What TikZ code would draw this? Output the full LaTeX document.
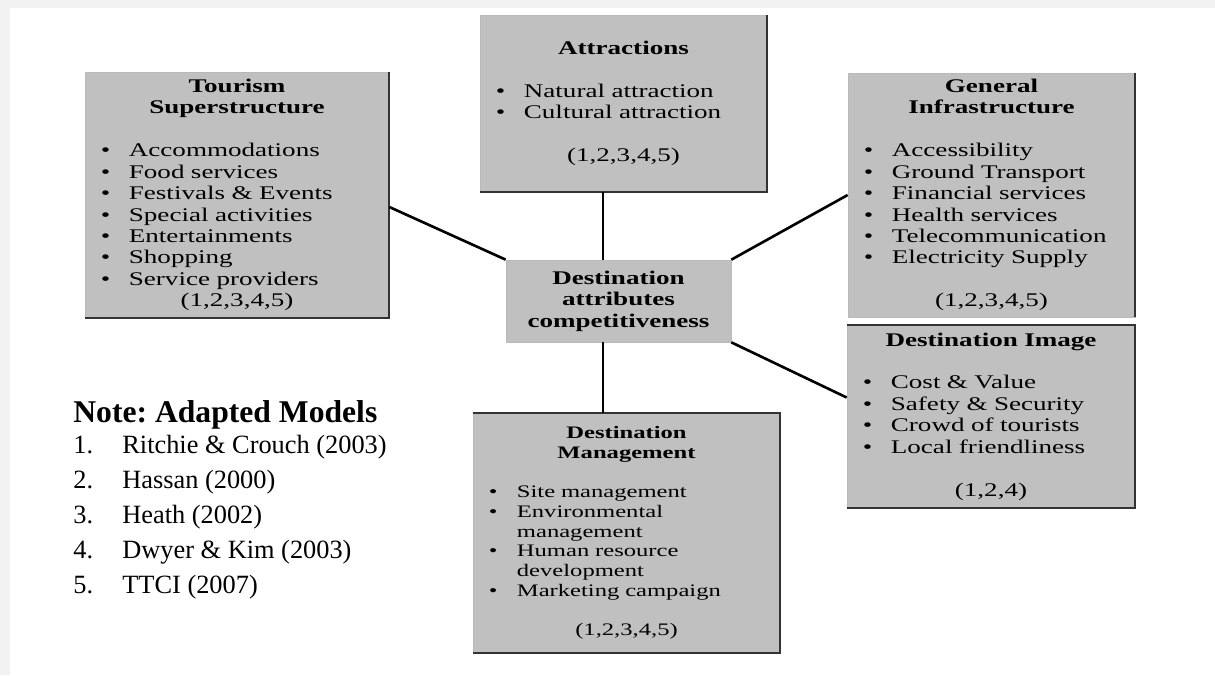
\documentclass[tikz,border=0pt]{standalone}
\usepackage{fontspec}
\setmainfont{Liberation Serif}
\newfontfamily\boxfont{Liberation Serif}[FakeStretch=1.4]
\definecolor{boxgray}{RGB}{192,192,192}
\definecolor{pagegray}{RGB}{242,242,242}
\newcommand{\itm}[1]{\makebox[\linewidth][l]{\hspace*{9pt}\makebox[16pt][l]{\textbullet}#1}}
\newcommand{\cnt}[1]{\makebox[\linewidth][l]{\hspace*{25pt}#1}}
\frenchspacing
\begin{document}
\begin{tikzpicture}[
    box/.style={draw=gray!55, line width=0.4pt, fill=boxgray, inner sep=0pt,
        align=center, font=\boxfont\fontsize{11pt}{12.2pt}\selectfont},
    smallbox/.style={box, font=\boxfont\fontsize{10pt}{11.2pt}\selectfont},
    rim/.style={draw=black!80, line width=1.1pt},
    link/.style={line width=1.5pt},
    ttl/.style={anchor=base west, inner sep=0pt, font=\fontsize{18pt}{20pt}\selectfont\bfseries},
    ref/.style={anchor=base west, inner sep=0pt, font=\fontsize{15pt}{17pt}\selectfont}
]
% page
\fill[pagegray] (0,0) rectangle (24.3,-13.5);
\fill[white] (0.2,-0.16) rectangle (24.3,-13.5);

\node[box, text width=6.08cm, minimum height=4.92cm] (ts) at (4.74,-3.90)
    {\textbf{Tourism}\\ \textbf{Superstructure}\\[12.2pt]
     \itm{Accommodations}\\ \itm{Food services}\\ \itm{Festivals \& Events}\\
     \itm{Special activities}\\ \itm{Entertainments}\\ \itm{Shopping}\\
     \itm{Service providers}\\ (1,2,3,4,5)};

\node[box, text width=5.74cm, minimum height=3.54cm] (at) at (12.47,-2.07)
    {\textbf{Attractions}\\[12.2pt]
     \itm{Natural attraction}\\ \itm{Cultural attraction}\\[12.2pt]
     (1,2,3,4,5)};

\node[box, text width=5.74cm, minimum height=4.88cm] (gi) at (19.83,-3.90)
    {\textbf{General}\\ \textbf{Infrastructure}\\[12.2pt]
     \itm{Accessibility}\\ \itm{Ground Transport}\\ \itm{Financial services}\\
     \itm{Health services}\\ \itm{Telecommunication}\\ \itm{Electricity Supply}\\[12.2pt]
     (1,2,3,4,5)};

\node[box, text width=5.76cm, minimum height=3.66cm] (di) at (19.82,-8.33)
    {\textbf{Destination Image}\\[12.2pt]
     \itm{Cost \& Value}\\ \itm{Safety \& Security}\\ \itm{Crowd of tourists}\\
     \itm{Local friendliness}\\[12.2pt]
     (1,2,4)};

\node[smallbox, text width=6.14cm, minimum height=4.80cm] (dm) at (12.53,-10.66)
    {\textbf{Destination}\\ \textbf{Management}\\[11.2pt]
     \itm{Site management}\\ \itm{Environmental}\\ \cnt{management}\\
     \itm{Human resource}\\ \cnt{development}\\ \itm{Marketing campaign}\\[11.2pt]
     (1,2,3,4,5)};

\node[box, text width=4.50cm, minimum height=1.64cm] (cb) at (12.37,-6.02)
    {\textbf{Destination}\\ \textbf{attributes}\\ \textbf{competitiveness}};

% darker edges
\draw[rim] (ts.north east) -- (ts.south east) -- (ts.south west);
\draw[rim] (at.north east) -- (at.south east) -- (at.south west);
\draw[rim] (gi.north east) -- (gi.south east);
\draw[rim] (di.north west) -- (di.north east) -- (di.south east) -- (di.south west);
\draw[rim] (dm.north west) -- (dm.north east) -- (dm.south east) -- (dm.south west);

% links
\coordinate (up) at ([xshift=-0.31cm]cb.north);
\coordinate (dn) at ([xshift=-0.31cm]cb.south);
\draw[link] ([yshift=-0.24cm]ts.east) -- (cb.north west);
\draw[link] (up) -- (up |- at.south);
\draw[link] (cb.north east) -- (gi.west);
\draw[link] (cb.south east) -- ([yshift=0.38cm]di.west);
\draw[link] (dn) -- (dn |- dm.north);

% note
\node[ttl] (note) at (1.46,-8.44) {Note: Adapted Models};
\node[ref] (k1) at (1.46,-9.06) {1.}; \node[ref] (r1) at (2.44,-9.06) {Ritchie \& Crouch (2003)};
\node[ref] (k2) at (1.46,-9.76) {2.}; \node[ref] (r2) at (2.44,-9.76) {Hassan (2000)};
\node[ref] (k3) at (1.46,-10.46) {3.}; \node[ref] (r3) at (2.44,-10.46) {Heath (2002)};
\node[ref] (k4) at (1.46,-11.16) {4.}; \node[ref] (r4) at (2.44,-11.16) {Dwyer \& Kim (2003)};
\node[ref] (k5) at (1.46,-11.86) {5.}; \node[ref] (r5) at (2.44,-11.86) {TTCI (2007)};
\end{tikzpicture}
\end{document}
